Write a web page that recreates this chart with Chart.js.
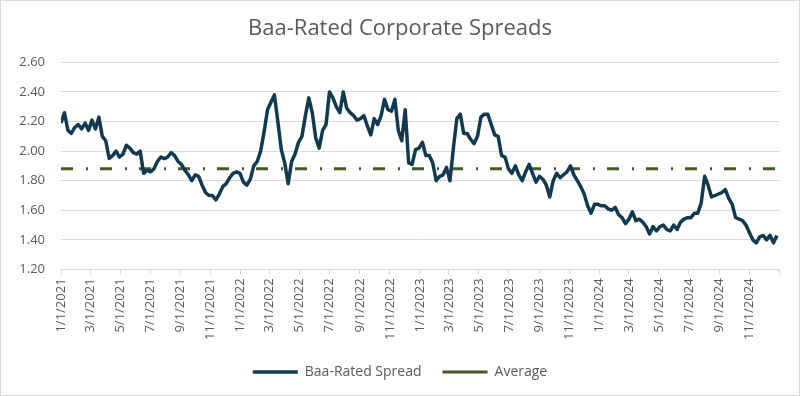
<!DOCTYPE html>
<html>
<head>
<meta charset="utf-8">
<script src="https://cdn.jsdelivr.net/npm/chart.js@4.4.1/dist/chart.umd.min.js"></script>
<style>
  html, body { margin: 0; padding: 0; background: #fff; }
  #wrap { width: 800px; height: 396px; box-sizing: border-box; border: 1px solid #d9d9d9; position: relative; }
</style>
</head>
<body>
<div id="wrap"><canvas id="myChart"></canvas></div>
<script>
// weekly readings, first one on 1/1/2021, one every 7 days
const firstWeek = '1/1/2021';
const axisEnd = '1/1/2025';

const spread2021 = [
  2.19, 2.26, 2.14, 2.12, 2.16, 2.18, 2.15, 2.19, 2.14, 2.21, 2.15, 2.23, 2.10, 2.07,
  1.95, 1.97, 2.00, 1.96, 1.98, 2.04, 2.02, 1.99, 1.98, 2.00, 1.85, 1.87, 1.86, 1.88,
  1.93, 1.96, 1.95, 1.96, 1.99, 1.97, 1.93, 1.91, 1.87, 1.84, 1.80, 1.84, 1.83, 1.77,
  1.72, 1.70, 1.70, 1.67, 1.71, 1.76, 1.78, 1.82, 1.85, 1.86, 1.85
];
const spread2022 = [
  1.79, 1.77, 1.81, 1.90, 1.93, 2.00, 2.13, 2.28, 2.33, 2.38, 2.20, 2.01, 1.92, 1.78,
  1.93, 1.98, 2.06, 2.10, 2.24, 2.36, 2.26, 2.09, 2.02, 2.14, 2.18, 2.40, 2.36, 2.30,
  2.26, 2.40, 2.29, 2.26, 2.24, 2.21, 2.22, 2.24, 2.17, 2.11, 2.22, 2.18, 2.24, 2.35,
  2.28, 2.27, 2.35, 2.14, 2.07, 2.28, 1.92, 1.91, 2.01, 2.02
];
const spread2023 = [
  2.06, 1.97, 1.97, 1.92, 1.80, 1.83, 1.84, 1.89, 1.80, 2.02, 2.22, 2.25, 2.12, 2.12,
  2.08, 2.05, 2.10, 2.23, 2.25, 2.25, 2.18, 2.11, 2.10, 1.97, 1.96, 1.88, 1.85, 1.90,
  1.84, 1.80, 1.86, 1.91, 1.85, 1.79, 1.83, 1.81, 1.77, 1.69, 1.80, 1.85, 1.82, 1.84,
  1.86, 1.90, 1.84, 1.80, 1.76, 1.71, 1.63, 1.58, 1.64, 1.64
];
const spread2024 = [
  1.63, 1.63, 1.61, 1.60, 1.62, 1.57, 1.55, 1.51, 1.54, 1.59, 1.53, 1.54, 1.52, 1.49,
  1.44, 1.49, 1.46, 1.49, 1.50, 1.47, 1.46, 1.50, 1.47, 1.52, 1.54, 1.55, 1.55, 1.58,
  1.58, 1.65, 1.83, 1.77, 1.69, 1.70, 1.71, 1.72, 1.74, 1.68, 1.64, 1.55, 1.54, 1.53,
  1.50, 1.45, 1.40, 1.38, 1.42, 1.43, 1.40, 1.43, 1.38, 1.43
];
const averageSpread = 1.88;

const tickLabels = [
  '1/1/2021', '3/1/2021', '5/1/2021', '7/1/2021', '9/1/2021', '11/1/2021',
  '1/1/2022', '3/1/2022', '5/1/2022', '7/1/2022', '9/1/2022', '11/1/2022',
  '1/1/2023', '3/1/2023', '5/1/2023', '7/1/2023', '9/1/2023', '11/1/2023',
  '1/1/2024', '3/1/2024', '5/1/2024', '7/1/2024', '9/1/2024', '11/1/2024'
];

const FONT = "'Open Sans', sans-serif";
const GREY = '#595959';

function dayOf(s) {
  const [m, d, y] = s.split('/').map(Number);
  const [m0, d0, y0] = firstWeek.split('/').map(Number);
  return Math.round((Date.UTC(y, m - 1, d) - Date.UTC(y0, m0 - 1, d0)) / 86400000);
}

const spread = [...spread2021, ...spread2022, ...spread2023, ...spread2024];
const spreadPoints = spread.map((v, i) => ({ x: i * 7, y: v }));
const lastDay = (spread.length - 1) * 7;
const avgPoints = [{ x: 0, y: averageSpread }, { x: lastDay, y: averageSpread }];

const tickDays = tickLabels.map(dayOf);
const endDay = dayOf(axisEnd);

const chartContext = document.getElementById('myChart').getContext('2d');
new Chart(chartContext, {
    type: 'line',
    data: {
        datasets: [
            {
                label: 'Baa-Rated Spread',
                data: spreadPoints,
                borderColor: '#113a50',
                backgroundColor: '#113a50',
                borderWidth: 3.5,
                borderJoinStyle: 'round',
                pointRadius: 0,
                tension: 0
            },
            {
                label: 'Average',
                data: avgPoints,
                borderColor: '#3e5c24',
                backgroundColor: '#3e5c24',
                borderWidth: 3,
                borderDash: [12, 13, 2, 12],
                pointRadius: 0
            }
        ]
    },
    options: {
        responsive: true,
        maintainAspectRatio: false,
        animation: false,
        layout: { padding: { left: 18, right: 18, top: 7, bottom: 6 } },
        plugins: {
            title: {
                display: true,
                text: 'Baa-Rated Corporate Spreads',
                color: GREY,
                font: { family: FONT, size: 22, weight: 'normal' },
                padding: { top: 8, bottom: 20 }
            },
            legend: {
                position: 'bottom',
                labels: {
                    usePointStyle: true,
                    pointStyle: 'line',
                    pointStyleWidth: 45,
                    color: GREY,
                    font: { family: FONT, size: 14 },
                    padding: 21
                }
            },
            tooltip: { enabled: false }
        },
        scales: {
            x: {
                type: 'linear',
                min: 0,
                max: endDay,
                afterBuildTicks: (axis) => {
                    axis.ticks = [...tickDays, endDay].map((v) => ({ value: v }));
                },
                ticks: {
                    autoSkip: false,
                    minRotation: 90,
                    maxRotation: 90,
                    padding: 4,
                    color: GREY,
                    font: { family: FONT, size: 13 },
                    callback: (v) => {
                        const i = tickDays.indexOf(v);
                        return i >= 0 ? tickLabels[i] : '';
                    }
                },
                grid: { drawOnChartArea: false, tickLength: 5, color: '#d9d9d9' },
                border: { color: '#d9d9d9' }
            },
            y: {
                min: 1.2,
                max: 2.6,
                afterFit: (axis) => { axis.width = 42; },
                ticks: {
                    stepSize: 0.2,
                    padding: 16,
                    color: GREY,
                    font: { family: FONT, size: 13 },
                    callback: (v) => v.toFixed(2)
                },
                grid: { color: '#d9d9d9', drawTicks: false },
                border: { display: false }
            }
        }
    }
});
</script>
</body>
</html>
